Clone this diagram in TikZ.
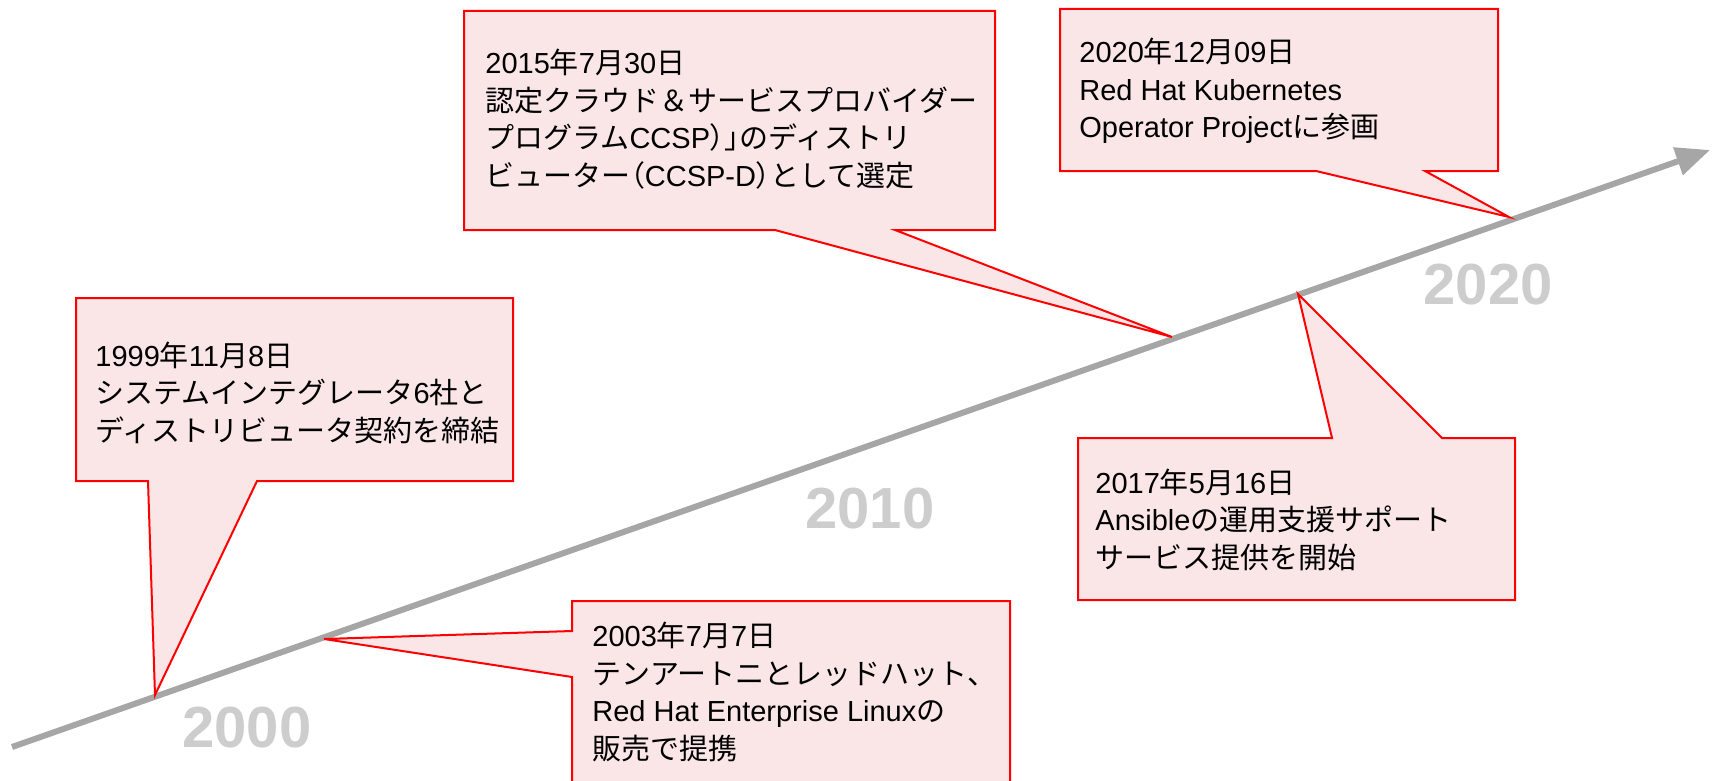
\documentclass[tikz,border=0pt]{standalone}
\usepackage{fontspec}
\setmainfont{Liberation Sans}
\newfontfamily\jpfont{Noto Sans CJK JP}
\newfontfamily\jpfontpalt[RawFeature=+palt]{Noto Sans CJK JP}
\usetikzlibrary{arrows.meta}

\definecolor{linegray}{RGB}{166,166,166}
\definecolor{yeargray}{RGB}{205,205,205}
\definecolor{calloutred}{RGB}{255,0,0}
\definecolor{calloutpink}{RGB}{250,230,230}

% Japanese characters get the CJK font
\XeTeXinterchartokenstate=1
\newXeTeXintercharclass\jpclass
\newcount\jpcode
\newcommand\setjprange[2]{%
  \jpcode=#1\relax
  \loop
    \XeTeXcharclass\jpcode=\jpclass
  \ifnum\jpcode<#2\relax
    \advance\jpcode by 1
  \repeat}
\setjprange{"3000}{"30FF}
\setjprange{"4E00}{"9FFF}
\setjprange{"FF00}{"FFEF}
\XeTeXinterchartoks 0 \jpclass = {\begingroup\jpfont}
\XeTeXinterchartoks 4095 \jpclass = {\begingroup\jpfont}
\XeTeXinterchartoks \jpclass 0 = {\endgroup}
\XeTeXinterchartoks \jpclass 4095 = {\endgroup}
% tight brackets
\newcommand\jptight[1]{{\let\jpfont\jpfontpalt#1}}

\begin{document}
\begin{tikzpicture}[x=0.5pt, y=-0.5pt,
    callout/.style = {draw=calloutred, fill=calloutpink, line width=1pt},
    event/.style = {anchor=base west, align=left, inner sep=0pt,
                    font=\fontsize{14.5pt}{18.75pt}\selectfont},
    year/.style = {anchor=base, inner sep=0pt, text=yeargray,
                   font=\fontsize{29pt}{34pt}\selectfont\bfseries}]
    \clip (0,0) rectangle (1712,781);

    % timeline
    \coordinate (start) at (12,747);
    \coordinate (end) at (1710,150);
    \draw[line width=3pt, linegray, -{Triangle[length=17pt,width=14pt]}] (start) -- (end);

    \node[year] (y2000) at (247,747) {2000};
    \node[year] (y2010) at (870,528) {2010};
    \node[year] (y2020) at (1488,304) {2020};

    % points on the timeline
    \coordinate (p1999) at (155,695);
    \coordinate (p2003) at (324,639);
    \coordinate (p2015) at (1172,337);
    \coordinate (p2017) at (1298,294);
    \coordinate (p2020) at (1509,217);

    \draw[callout] (76,298) -- (513,298) -- (513,481) -- (257,481) -- (p1999)
        -- (148,481) -- (76,481) -- cycle;
    \node[event] (e1999) at (95,441) {1999年11月8日\\システムインテグレータ6社と\\ディストリビュータ契約を締結};

    \draw[callout] (572,601) -- (1010,601) -- (1010,800) -- (572,800) -- (572,677)
        -- (p2003) -- (572,631) -- cycle;
    \node[event] (e2003) at (592,759) {2003年7月7日\\テンアートニとレッドハット、\\Red Hat Enterprise Linuxの\\販売で提携};

    \draw[callout] (464,11) -- (995,11) -- (995,230) -- (895,230) -- (p2015)
        -- (775,230) -- (464,230) -- cycle;
    \node[event] (e2015) at (485,186) {2015年7月30日\\認定クラウド＆サービスプロバイダー\\プログラムCCSP\jptight{）」}のディストリ\\ビューター\jptight{（}CCSP-D\jptight{）}として選定};

    \draw[callout] (1078,438) -- (1332,438) -- (p2017) -- (1442,438) -- (1515,438)
        -- (1515,600) -- (1078,600) -- cycle;
    \node[event] (e2017) at (1095,568) {2017年5月16日\\Ansibleの運用支援サポート\\サービス提供を開始};

    \draw[callout] (1060,9) -- (1498,9) -- (1498,171) -- (1425,171) -- (p2020)
        -- (1316,171) -- (1060,171) -- cycle;
    \node[event] (e2020) at (1079,138) {2020年12月09日\\Red Hat Kubernetes\\Operator Projectに参画};
\end{tikzpicture}
\end{document}
